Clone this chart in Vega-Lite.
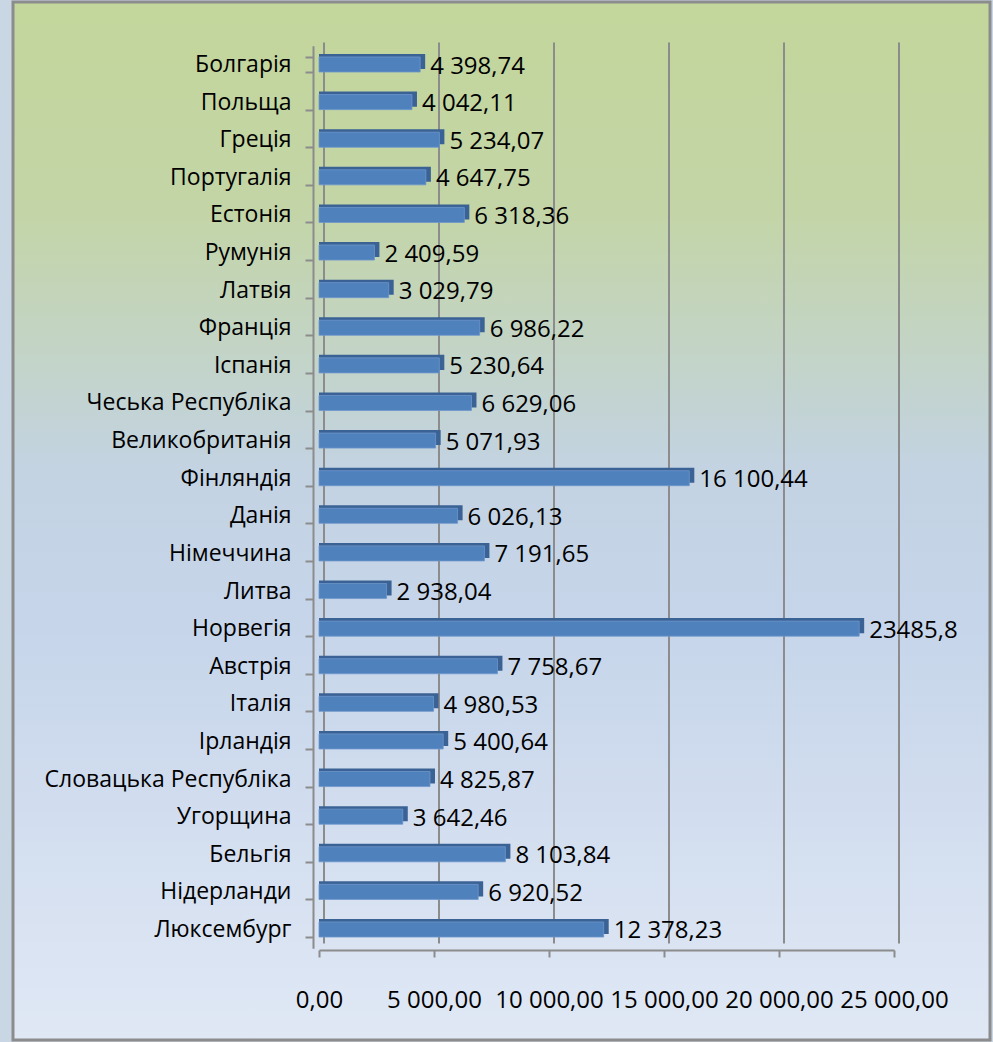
{
  "$schema": "https://vega.github.io/schema/vega-lite/v6.json",
  "width": 977,
  "height": 1038,
  "autosize": {"type": "none"},
  "padding": {"left": 13, "top": 2, "right": 3, "bottom": 2},
  "background": "#c9d6e4",
  "view": {
    "fill": {
      "gradient": "linear",
      "x1": 0, "y1": 0, "x2": 0, "y2": 1,
      "stops": [
        {"offset": 0, "color": "#c3d69b"},
        {"offset": 0.2, "color": "#c3d5a6"},
        {"offset": 0.45, "color": "#c3d3e2"},
        {"offset": 0.6, "color": "#c6d5ea"},
        {"offset": 1, "color": "#e0e8f5"}
      ]
    },
    "stroke": "#8c8c8c",
    "strokeWidth": 3
  },
  "config": {
    "locale": {"number": {"decimal": ",", "thousands": " ", "grouping": [3], "currency": ["", ""]}},
    "font": "Open Sans",
    "axis": {"labelFont": "Open Sans", "labelColor": "#000000", "labelFontSize": 23, "title": null}
  },
  "datasets": {
    "grid": [
      {"g": 0}, {"g": 5000}, {"g": 10000}, {"g": 15000}, {"g": 20000}, {"g": 25000}
    ],
    "rows": [
      {"country": "Болгарія", "value": 4398.74, "label": "4 398,74"},
      {"country": "Польща", "value": 4042.11, "label": "4 042,11"},
      {"country": "Греція", "value": 5234.07, "label": "5 234,07"},
      {"country": "Португалія", "value": 4647.75, "label": "4 647,75"},
      {"country": "Естонія", "value": 6318.36, "label": "6 318,36"},
      {"country": "Румунія", "value": 2409.59, "label": "2 409,59"},
      {"country": "Латвія", "value": 3029.79, "label": "3 029,79"},
      {"country": "Франція", "value": 6986.22, "label": "6 986,22"},
      {"country": "Іспанія", "value": 5230.64, "label": "5 230,64"},
      {"country": "Чеська Республіка", "value": 6629.06, "label": "6 629,06"},
      {"country": "Великобританія", "value": 5071.93, "label": "5 071,93"},
      {"country": "Фінляндія", "value": 16100.44, "label": "16 100,44"},
      {"country": "Данія ", "value": 6026.13, "label": "6 026,13"},
      {"country": "Німеччина", "value": 7191.65, "label": "7 191,65"},
      {"country": "Литва", "value": 2938.04, "label": "2 938,04"},
      {"country": "Норвегія", "value": 23485.8, "label": "23485,8"},
      {"country": "Австрія", "value": 7758.67, "label": "7 758,67"},
      {"country": "Італія", "value": 4980.53, "label": "4 980,53"},
      {"country": "Ірландія", "value": 5400.64, "label": "5 400,64"},
      {"country": "Словацька Республіка", "value": 4825.87, "label": "4 825,87"},
      {"country": "Угорщина ", "value": 3642.46, "label": "3 642,46"},
      {"country": "Бельгія", "value": 8103.84, "label": "8 103,84"},
      {"country": "Нідерланди ", "value": 6920.52, "label": "6 920,52"},
      {"country": "Люксембург", "value": 12378.23, "label": "12 378,23"}
    ]
  },
  "layer": [
    {
      "data": {"name": "grid"},
      "mark": {"type": "rule", "color": "#8c8c8c", "strokeWidth": 2, "xOffset": 5, "yOffset": -22, "y2Offset": 14},
      "encoding": {
        "x": {"field": "g", "type": "quantitative"},
        "y": {"datum": "Болгарія", "type": "nominal"},
        "y2": {"datum": "Люксембург"}
      }
    },
    {
      "data": {"name": "rows"},
      "mark": {"type": "bar", "color": "#3a6294", "yOffset": -3, "xOffset": 5},
      "encoding": {
        "y": {
          "field": "country",
          "type": "nominal",
          "sort": null,
          "scale": {
            "domain": ["Болгарія", "Польща", "Греція", "Португалія", "Естонія", "Румунія", "Латвія", "Франція", "Іспанія", "Чеська Республіка", "Великобританія", "Фінляндія", "Данія ", "Німеччина", "Литва", "Норвегія", "Австрія", "Італія", "Ірландія", "Словацька Республіка", "Угорщина ", "Бельгія", "Нідерланди ", "Люксембург"],
            "range": [43.7, 946.3],
            "paddingInner": 0.6,
            "paddingOuter": 0.3
          },
          "axis": {
            "orient": "left",
            "offset": -300,
            "grid": false,
            "domainColor": "#8c8c8c",
            "domainWidth": 2,
            "tickColor": "#8c8c8c",
            "tickWidth": 2,
            "tickSize": 8,
            "tickBand": "extent",
            "labelPadding": 14,
            "labelLimit": 500
          }
        },
        "x": {
          "field": "value",
          "type": "quantitative",
          "scale": {"domain": [0, 25000], "range": [306, 881], "nice": false},
          "axis": {
            "orient": "bottom",
            "offset": -90,
            "values": [0, 5000, 10000, 15000, 20000, 25000],
            "format": ",.2f",
            "grid": false,
            "domainColor": "#8c8c8c",
            "domainWidth": 2,
            "tickColor": "#8c8c8c",
            "tickWidth": 2,
            "tickSize": 7,
            "labelPadding": 31,
            "labelFontSize": 24,
            "labelFlush": false,
            "labelOverlap": false
          }
        },
        "x2": {"datum": 0}
      }
    },
    {
      "data": {"name": "rows"},
      "mark": {"type": "bar", "color": "#4f81bd", "stroke": "#6d97cb", "strokeWidth": 0.8},
      "encoding": {
        "y": {"field": "country", "type": "nominal", "sort": null},
        "x": {"field": "value", "type": "quantitative"},
        "x2": {"datum": 0}
      }
    },
    {
      "data": {"name": "rows"},
      "mark": {"type": "text", "align": "left", "baseline": "middle", "dx": 10, "dy": 2, "fontSize": 24, "font": "Open Sans", "color": "#000000"},
      "encoding": {
        "y": {"field": "country", "type": "nominal", "sort": null},
        "x": {"field": "value", "type": "quantitative"},
        "text": {"field": "label"}
      }
    }
  ]
}
